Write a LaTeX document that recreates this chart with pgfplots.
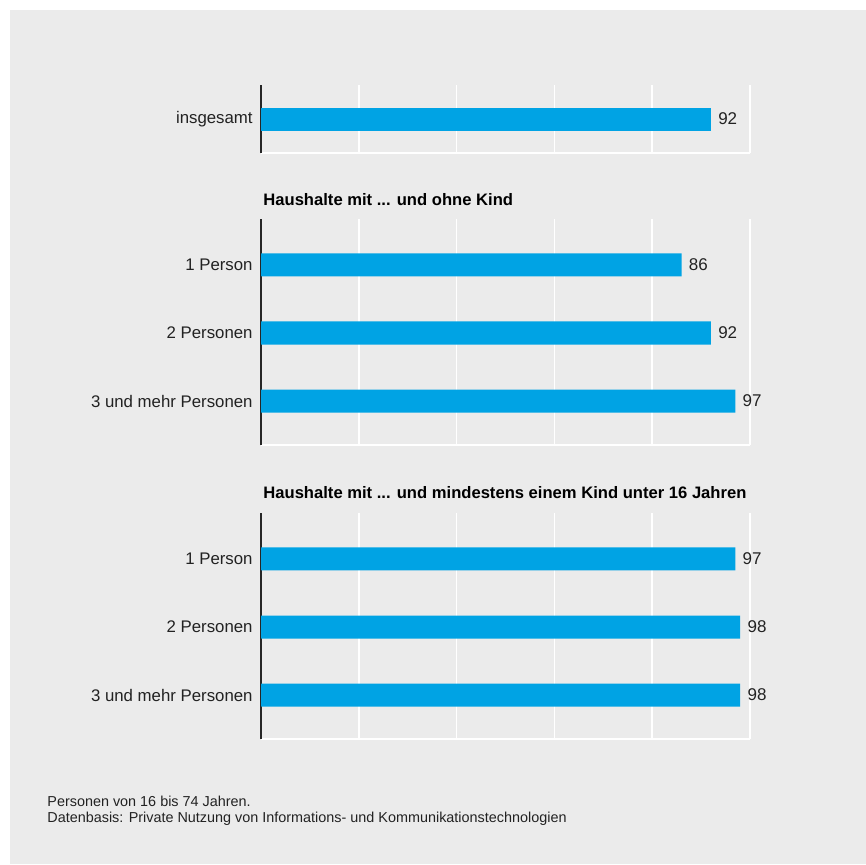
\documentclass[border=0pt]{standalone}
\usepackage{pgfplots}
\pgfplotsset{compat=1.18}
\usepackage{fontspec}
\setmainfont{Liberation Sans}
\definecolor{bg}{HTML}{EBEBEB}
\definecolor{barblue}{HTML}{00A3E4}
\definecolor{txt}{HTML}{222222}
\pgfplotsset{
  panel/.style={
    xbar, scale only axis, width=244.5pt,
    xmin=0, xmax=100,
    xtick={20,40,60,80,100}, xticklabels={},
    xmajorgrids, major grid style={white, line width=0.8pt},
    major tick length=0pt,
    axis x line*=bottom, axis y line*=left,
    x axis line style={-, white, line width=1pt},
    y axis line style={-, black!85, line width=0.7pt},
    ytick=data,
    yticklabel style={font=\fontsize{8.4}{10}\selectfont, text=txt, inner sep=0pt, xshift=-4pt},
    bar width=11.5pt,
    /pgf/number format/assume math mode=true,
    nodes near coords,
    nodes near coords style={font=\fontsize{8.5}{10}\selectfont, text=txt, anchor=west, inner sep=0pt, xshift=3.5pt},
    anchor=south west,
  }
}
\begin{document}
\begin{tikzpicture}
\fill[white] (0pt,0pt) rectangle (433pt,-432pt);
\fill[bg] (5pt,-5pt) rectangle (433pt,-432pt);

\begin{axis}[panel, at={(130.5pt,-76.5pt)}, height=34pt, ymin=0.5, ymax=1.5,
  yticklabels={insgesamt}]
\addplot[draw=none, fill=barblue] coordinates {(92,1)};
\end{axis}

\node[anchor=base west, font=\bfseries\fontsize{8.3}{10}\selectfont, text=black, inner sep=0pt] at (131.5pt,-102.5pt) {Haushalte mit ... und ohne Kind};

\begin{axis}[panel, at={(130.5pt,-222.5pt)}, height=113pt, ymin=0.353, ymax=3.676,
  yticklabels={3 und mehr Personen, 2 Personen, 1 Person}]
\addplot[draw=none, fill=barblue] coordinates {(97,1) (92,2) (86,3)};
\end{axis}

\node[anchor=base west, font=\bfseries\fontsize{8.3}{10}\selectfont, text=black, inner sep=0pt] at (131.5pt,-249pt) {Haushalte mit ... und mindestens einem Kind unter 16 Jahren};

\begin{axis}[panel, at={(130.5pt,-369.5pt)}, height=113pt, ymin=0.353, ymax=3.676,
  yticklabels={3 und mehr Personen, 2 Personen, 1 Person}]
\addplot[draw=none, fill=barblue] coordinates {(98,1) (98,2) (97,3)};
\end{axis}

\node[anchor=base west, font=\fontsize{7.2}{8}\selectfont, text=txt, inner sep=0pt] at (23.5pt,-403pt) {Personen von 16 bis 74 Jahren.};
\node[anchor=base west, font=\fontsize{7.2}{8}\selectfont, text=txt, inner sep=0pt] at (23.5pt,-411pt) {Datenbasis: Private Nutzung von Informations- und Kommunikationstechnologien};
\end{tikzpicture}
\end{document}
